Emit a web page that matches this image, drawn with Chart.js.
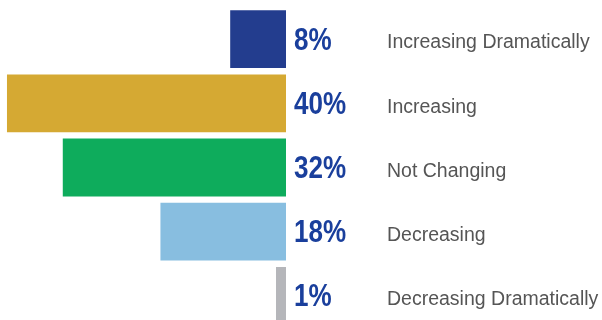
<!DOCTYPE html>
<html>
<head>
<meta charset="utf-8">
<script src="https://cdn.jsdelivr.net/npm/chart.js@4"></script>
<style>
  html, body { margin: 0; padding: 0; background: #fff; overflow: hidden; }
  #wrap { position: relative; width: 602px; height: 328px; }
</style>
</head>
<body>
<div id="wrap"><canvas id="trend"></canvas></div>
<script>
// share of answers per outlook
const categories = ['Increasing Dramatically', 'Increasing', 'Not Changing', 'Decreasing', 'Decreasing Dramatically'];
const shares = [8, 40, 32, 18, 1];
const barColors = ['#233d8e', '#d5a933', '#0eac5c', '#88bee0', '#b5b6ba'];

// percent + category text to the right of the bars
const sideLabels = {
    id: 'sideLabels',
    afterDatasetsDraw(chart) {
        const { ctx, scales } = chart;
        const x0 = scales.x.getPixelForValue(0);
        ctx.save();
        ctx.textBaseline = 'middle';
        ctx.textAlign = 'left';
        categories.forEach((name, i) => {
            const y = scales.y.getPixelForValue(i);
            // narrow bold figure: squeeze horizontally
            ctx.save();
            ctx.translate(x0 + 8, y + 2);
            ctx.scale(0.84, 1);
            ctx.fillStyle = '#1a3f9c';
            ctx.font = 'bold 31px "Liberation Sans", Arial, sans-serif';
            ctx.fillText(shares[i] + '%', 0, 0);
            ctx.restore();
            ctx.fillStyle = '#555555';
            ctx.font = '19.5px "Liberation Sans", Arial, sans-serif';
            ctx.fillText(name, x0 + 101, y + 4);
        });
        ctx.restore();
    }
};

new Chart(document.getElementById('trend'), {
    type: 'bar',
    data: {
        labels: categories,
        datasets: [{
            data: shares,
            backgroundColor: barColors,
            borderWidth: 0,
            barPercentage: 0.9,
            categoryPercentage: 1,
            minBarLength: 10
        }]
    },
    options: {
        indexAxis: 'y',
        responsive: true,
        maintainAspectRatio: false,
        animation: false,
        layout: { padding: { left: 0, right: 316, top: 7, bottom: 0 } },
        scales: {
            x: { display: false, reverse: true, min: 0, max: 41 },
            y: { display: false }
        },
        plugins: { legend: { display: false }, tooltip: { enabled: false } }
    },
    plugins: [sideLabels]
});
</script>
</body>
</html>
